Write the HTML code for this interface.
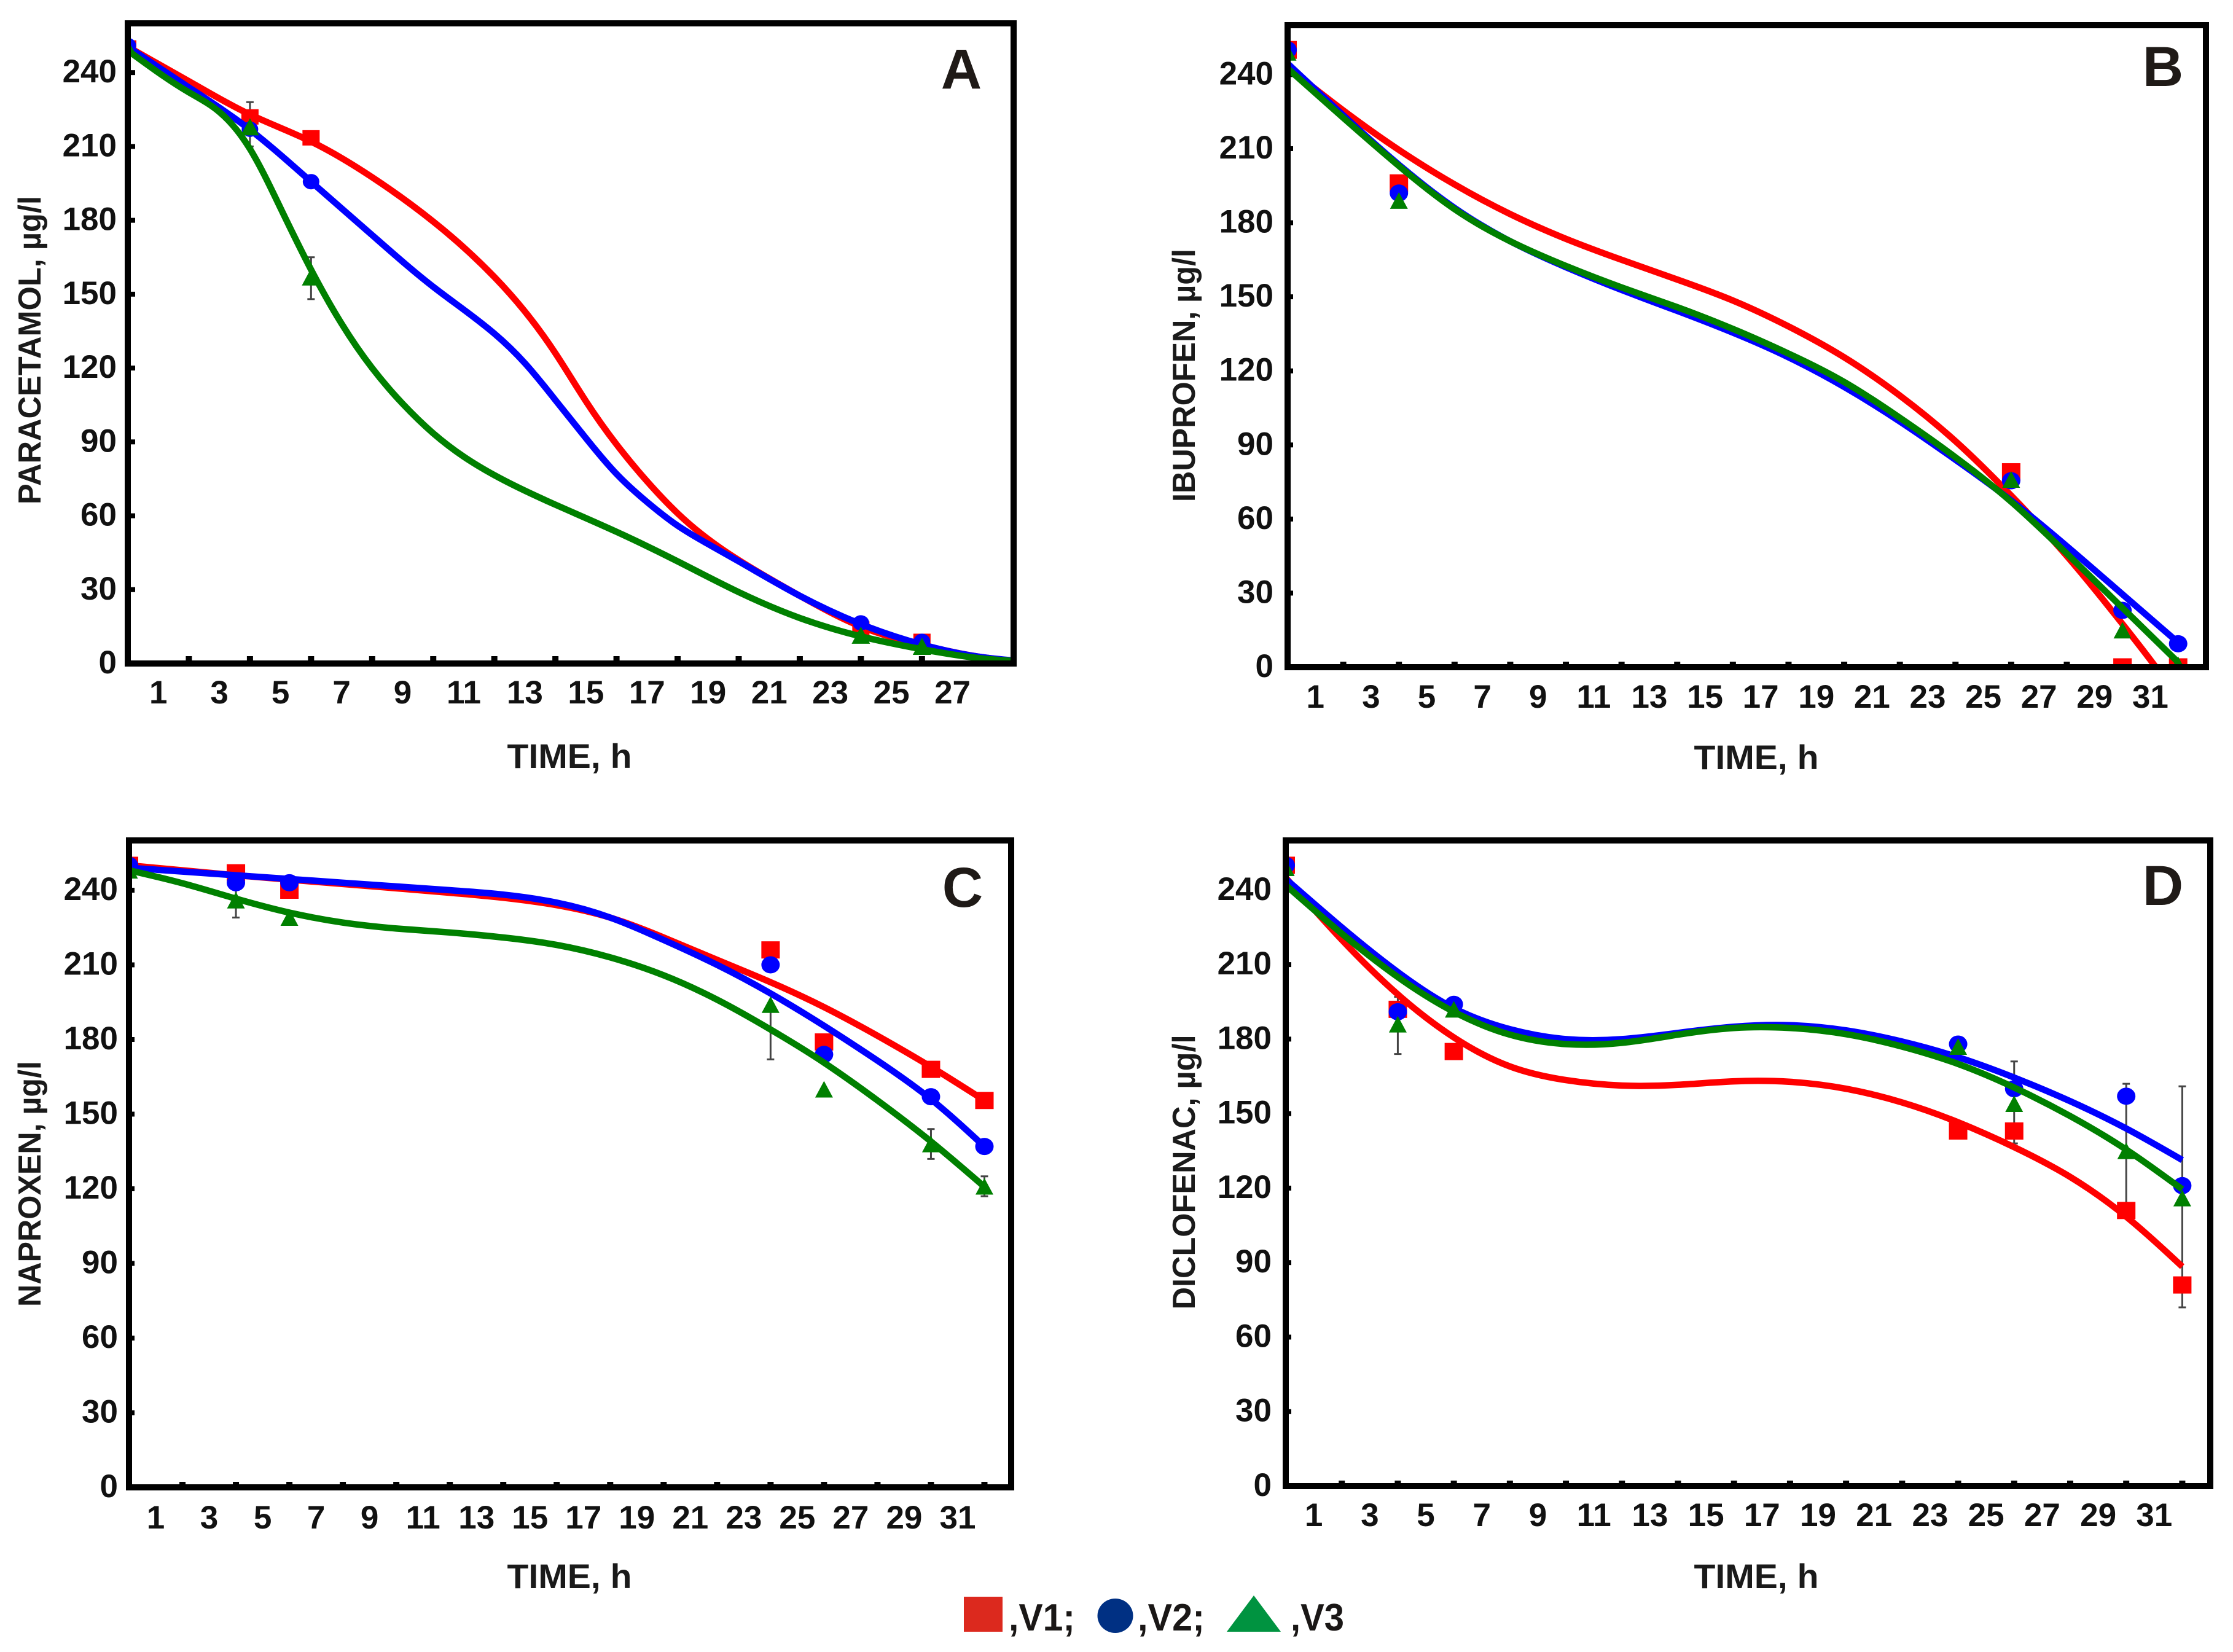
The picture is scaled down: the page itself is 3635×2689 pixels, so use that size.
<!DOCTYPE html>
<html lang="en">
<head>
<meta charset="utf-8">
<title>Pharmaceutical concentration over time, panels A to D</title>
<style>
html,body{margin:0;padding:0;background:#fff;}
svg{display:block;}
text{font-family:"Liberation Sans",Arial,sans-serif;font-weight:bold;fill:#111;}
.letter{fill:#1f1a17;font-size:92px;text-anchor:middle;}
.ytitle{font-size:52px;text-anchor:middle;fill:#1a1a1a;}
.xtitle{font-size:56px;text-anchor:middle;fill:#1a1a1a;}
.legend{font-size:62px;fill:#1a1716;}
</style>
</head>
<body>
<svg id="figure" xmlns="http://www.w3.org/2000/svg" width="3635" height="2689" viewBox="0 0 3635 2689">
  <rect x="0" y="0" width="3635" height="2689" fill="#ffffff"/>
  <defs>
    <clipPath id="clip-A"><rect x="208" y="38" width="1442" height="1042"/></clipPath>
    <clipPath id="clip-B"><rect x="2096" y="41" width="1495" height="1045"/></clipPath>
    <clipPath id="clip-C"><rect x="210" y="1368" width="1436" height="1053"/></clipPath>
    <clipPath id="clip-D"><rect x="2093" y="1368" width="1505" height="1051"/></clipPath>
  </defs>

  <g id="panel-A"></g>
  <rect x="208" y="38" width="1442" height="1042" fill="none" stroke="#000" stroke-width="10"/>
  <text class="letter" x="1565" y="144">A</text>
  <text class="ytitle" transform="translate(66,570) rotate(-90)" textLength="502" lengthAdjust="spacingAndGlyphs">PARACETAMOL, µg/l</text>
  <text class="xtitle" x="927" y="1250" textLength="203" lengthAdjust="spacingAndGlyphs">TIME, h</text>

  <g id="panel-B"></g>
  <rect x="2096" y="41" width="1495" height="1045" fill="none" stroke="#000" stroke-width="10"/>
  <text class="letter" x="3521" y="140">B</text>
  <text class="ytitle" transform="translate(1945,611) rotate(-90)" textLength="412" lengthAdjust="spacingAndGlyphs">IBUPROFEN, µg/l</text>
  <text class="xtitle" x="2859" y="1252" textLength="203" lengthAdjust="spacingAndGlyphs">TIME, h</text>

  <g id="panel-C"></g>
  <rect x="210" y="1368" width="1436" height="1053" fill="none" stroke="#000" stroke-width="10"/>
  <text class="letter" x="1567" y="1476">C</text>
  <text class="ytitle" transform="translate(66,1927) rotate(-90)" textLength="400" lengthAdjust="spacingAndGlyphs">NAPROXEN, µg/l</text>
  <text class="xtitle" x="927" y="2585" textLength="203" lengthAdjust="spacingAndGlyphs">TIME, h</text>

  <g id="panel-D"></g>
  <rect x="2093" y="1368" width="1505" height="1051" fill="none" stroke="#000" stroke-width="10"/>
  <text class="letter" x="3521" y="1473">D</text>
  <text class="ytitle" transform="translate(1945,1908) rotate(-90)" textLength="447" lengthAdjust="spacingAndGlyphs">DICLOFENAC, µg/l</text>
  <text class="xtitle" x="2859" y="2585" textLength="203" lengthAdjust="spacingAndGlyphs">TIME, h</text>

  <g>
    <rect x="1569" y="2599" width="63" height="57" fill="#dc291e"/>
    <text class="legend" x="1642" y="2654" textLength="108" lengthAdjust="spacingAndGlyphs">,V1;</text>
    <ellipse cx="1815.5" cy="2630" rx="29" ry="28" fill="#003083"/>
    <text class="legend" x="1852" y="2654" textLength="109" lengthAdjust="spacingAndGlyphs">,V2;</text>
    <polygon points="2041,2597 2085,2656 1997,2656" fill="#009340"/>
    <text class="legend" x="2101" y="2654" textLength="87" lengthAdjust="spacingAndGlyphs">,V3</text>
  </g>
</svg>

<script>
// ---------- shared tick labels ----------
const yTickValues = [0, 30, 60, 90, 120, 150, 180, 210, 240];
const xLabelsA = [1, 3, 5, 7, 9, 11, 13, 15, 17, 19, 21, 23, 25, 27];
const xLabelsOther = [1, 3, 5, 7, 9, 11, 13, 15, 17, 19, 21, 23, 25, 27, 29, 31];

// ---------- Panel A: paracetamol ----------
const curveHoursA = [0, 2, 4, 6, 8, 10, 12, 13, 14, 15, 16, 17, 18, 19, 20, 22, 24, 26, 28, 29];
const curveA_V1 = [250.5, 236.5, 223, 212, 197.5, 179.5, 157, 143, 126, 106.5, 89, 74, 61, 50.5, 42, 27.5, 15, 7.5, 2.5, 1];
const curveA_V2 = [250.5, 234, 216.8, 195.7, 174, 153, 134, 122, 107, 91.5, 77, 65.6, 56, 48.5, 41.5, 27.5, 16, 7.7, 2.5, 1.2];
const curveHoursA_V3 = [0, 2, 3, 4, 5, 6, 7, 8, 9, 10, 11, 12, 14, 16, 18, 20, 22, 24, 26, 28, 29];
const curveA_V3 = [249, 232, 224, 209, 185, 160, 138, 120, 105.5, 93.5, 84, 76.5, 64.5, 53.5, 41.5, 29, 18.5, 11, 5.8, 2, 1];
const sampleHoursA = [0, 4, 6, 24, 26];
const pointsA_V1 = [250, 222, 213.5, 14, 9];
const pointsA_V2 = [251, 217, 195.7, 16.5, 9];
const pointsA_V3 = [250, 218, 157, 11.5, 7];
const errHoursA = [4, 4, 6];
const errLowA = [216, 210, 148];
const errHighA = [228, 224, 165];

// ---------- Panel B: ibuprofen ----------
const curveHoursB_V1 = [0, 2, 4, 6, 8, 10, 12, 14, 16, 18, 20, 22, 24, 26, 28, 30, 31, 31.5];
const curveB_V1 = [243, 225.5, 209.5, 195.5, 183.5, 173.5, 165, 157, 148.5, 138, 125.5, 110, 91.5, 69.5, 45, 17.5, 3, -4.5];
const curveHoursB = [0, 2, 4, 6, 8, 10, 12, 14, 16, 18, 20, 22, 24, 26, 28, 30, 32];
const curveB_V2 = [244.5, 223.5, 203.5, 186, 172.5, 162, 152.8, 144.3, 135.5, 125.5, 113.5, 99.5, 84, 67.5, 49, 29.5, 10];
const curveB_V3 = [242.5, 222.5, 203, 185.5, 172.5, 162.5, 153.8, 145.8, 137, 127, 115.5, 101, 85, 67, 46, 24, 2];
const sampleHoursB = [0, 4, 26, 30, 32];
const pointsB_V1 = [250, 196, 79, 0, 0];
const pointsB_V2 = [250, 192, 75.5, 23, 9.5];
const pointsB_V3 = [249, 189, 76, 15, 1];
const errHoursB = [];
const errLowB = [];
const errHighB = [];

// ---------- Panel C: naproxen ----------
const curveHoursC = [0, 4, 8, 12, 16, 18, 20, 22, 24, 26, 28, 30, 32];
const curveC_V1 = [250, 246, 242.5, 239, 234, 229, 221, 212, 203, 193, 181.5, 169, 155.5];
const curveC_V2 = [249, 246, 243, 240, 235, 229, 220, 210, 198.5, 185.5, 171.5, 156, 137];
const curveHoursC_V3 = [0, 2, 4, 6, 8, 10, 12, 14, 16, 18, 20, 22, 24, 26, 28, 30, 32];
const curveC_V3 = [248, 242.8, 236.6, 231, 227, 224.6, 223, 221, 218, 213, 205.8, 196, 184, 170.7, 155.5, 139, 120.8];
const sampleHoursC = [0, 4, 6, 24, 26, 30, 32];
const pointsC_V1 = [250, 247, 240, 216, 179, 168, 155.5];
const pointsC_V2 = [250, 243, 243, 210, 174, 157, 137];
const pointsC_V3 = [248, 236, 229, 194, 160, 138, 121];
const errHoursC = [4, 24, 30, 32];
const errLowC = [229, 172, 132, 117];
const errHighC = [242, 194, 144, 125];

// ---------- Panel D: diclofenac ----------
const curveHoursD = [0, 2, 4, 6, 8, 10, 12, 14, 16, 18, 20, 22, 24, 26, 28, 30, 32];
const curveD_V1 = [245, 220, 198, 180.7, 169, 163.5, 161.3, 161.6, 163, 162.8, 160, 154.5, 146.5, 136.5, 124.5, 108.5, 88.4];
const curveD_V2 = [244.5, 225, 207, 192.5, 184, 180, 180, 182.5, 185, 185.6, 183.5, 179, 172.7, 164.5, 155, 144, 131.3];
const curveD_V3 = [242, 222.5, 205, 191, 181.8, 178, 178.5, 181.8, 184.5, 184.5, 182, 177, 170, 160.5, 149, 135.5, 119.5];
const sampleHoursD = [0, 4, 6, 24, 26, 30, 32];
const pointsD_V1 = [250, 192, 175, 143, 143, 111, 81];
const pointsD_V2 = [250, 191, 194, 178, 160, 157, 121];
const pointsD_V3 = [249, 186, 192, 177, 154, 135, 116];
const errHoursD = [4, 26, 30, 32];
const errLowD = [174, 138, 111, 72];
const errHighD = [197, 171, 162, 161];

// ---------- rendering ----------
const SVG_NS = 'http://www.w3.org/2000/svg';
const seriesColors = ['#ff0000', '#0000ff', '#008000'];
const seriesKeys = ['v1', 'v2', 'v3'];

function mk(parent, tag, attrs) {
  const el = document.createElementNS(SVG_NS, tag);
  for (const k in attrs) el.setAttribute(k, attrs[k]);
  parent.appendChild(el);
  return el;
}

// Natural cubic spline through the curve values, emitted as Bezier segments.
function splinePath(hours, values, xs, ys) {
  const px = hours.map(xs);
  const py = values.map(ys);
  const n = px.length;
  const a = new Array(n).fill(0), b = new Array(n).fill(1), c = new Array(n).fill(0), r = new Array(n).fill(0);
  for (let i = 1; i < n - 1; i++) {
    const h0 = px[i] - px[i - 1], h1 = px[i + 1] - px[i];
    a[i] = h0;
    b[i] = 2 * (h0 + h1);
    c[i] = h1;
    r[i] = 6 * ((py[i + 1] - py[i]) / h1 - (py[i] - py[i - 1]) / h0);
  }
  for (let i = 1; i < n; i++) {
    const w = a[i] / b[i - 1];
    b[i] -= w * c[i - 1];
    r[i] -= w * r[i - 1];
  }
  const k = new Array(n).fill(0);
  k[n - 1] = r[n - 1] / b[n - 1];
  for (let i = n - 2; i >= 0; i--) k[i] = (r[i] - c[i] * k[i + 1]) / b[i];

  let d = 'M' + px[0].toFixed(1) + ' ' + py[0].toFixed(1);
  for (let i = 0; i < n - 1; i++) {
    const h = px[i + 1] - px[i];
    const s = (py[i + 1] - py[i]) / h;
    const m0 = s - h * (2 * k[i] + k[i + 1]) / 6;
    const m1 = s + h * (k[i] + 2 * k[i + 1]) / 6;
    d += ' C' + (px[i] + h / 3).toFixed(1) + ' ' + (py[i] + m0 * h / 3).toFixed(1) +
         ' ' + (px[i + 1] - h / 3).toFixed(1) + ' ' + (py[i + 1] - m1 * h / 3).toFixed(1) +
         ' ' + px[i + 1].toFixed(1) + ' ' + py[i + 1].toFixed(1);
  }
  return d;
}

function drawPanel(cfg) {
  const root = document.getElementById('panel-' + cfg.id);
  const xs = function (t) { return cfg.l + (t / cfg.xMax) * (cfg.r - cfg.l); };
  const ys = function (v) { return cfg.b - (v / 260) * (cfg.b - cfg.t); };

  // axis ticks and labels
  for (let t = 2; t < cfg.xMax; t += 2) {
    const tick = mk(root, 'rect', { x: xs(t) - 5, y: cfg.b - 5 - cfg.tick, width: 10, height: cfg.tick + 2, fill: '#000' });
    
    
  }
  yTickValues.forEach(function (v) {
    if (v > 0) {
      const tick = mk(root, 'rect', { x: cfg.l + 3, y: ys(v) - 4, width: cfg.tick + 2, height: 8, fill: '#000' });
      
      
    }
    const label = mk(root, 'text', { x: cfg.yLabelX, y: ys(v) + 16, 'text-anchor': 'end', 'font-size': 53 });
    
    
    label.textContent = v;
  });
  cfg.xLabels.forEach(function (t) {
    const label = mk(root, 'text', { x: xs(t), y: cfg.xLabelY, 'text-anchor': 'middle', 'font-size': 53 });
    
    
    label.textContent = t;
  });

  const plot = mk(root, 'g', { 'clip-path': 'url(#clip-' + cfg.id + ')' });
  
  

  // error bars
  cfg.errHours.forEach(function (t, i) {
    const x = xs(t);
    const bar = mk(plot, 'path', {
      d: 'M' + x + ' ' + ys(cfg.errLow[i]) + ' V' + ys(cfg.errHigh[i]) +
         ' M' + (x - 6) + ' ' + ys(cfg.errLow[i]) + ' H' + (x + 6) +
         ' M' + (x - 6) + ' ' + ys(cfg.errHigh[i]) + ' H' + (x + 6),
      stroke: '#444', 'stroke-width': 3, fill: 'none'
    });
    
    
  });

  // series: markers then line, layered V1, V2, V3
  cfg.series.forEach(function (s, si) {
    const color = seriesColors[si];
    s.points.forEach(function (v, i) {
      const cx = xs(cfg.sampleHours[i]);
      const cy = ys(v);
      let mark;
      if (si === 0) {
        mark = mk(plot, 'rect', { x: cx - cfg.sq[0] / 2, y: cy - cfg.sq[1] / 2, width: cfg.sq[0], height: cfg.sq[1], fill: color });
      } else if (si === 1) {
        mark = mk(plot, 'ellipse', { cx: cx, cy: cy, rx: cfg.ci[0], ry: cfg.ci[1], fill: color });
      } else {
        mark = mk(plot, 'polygon', {
          points: cx + ',' + (cy - cfg.tr[1] / 2) + ' ' + (cx + cfg.tr[0] / 2) + ',' + (cy + cfg.tr[1] / 2) + ' ' + (cx - cfg.tr[0] / 2) + ',' + (cy + cfg.tr[1] / 2),
          fill: color
        });
      }
      
      
    });
    const line = mk(plot, 'path', {
      d: splinePath(s.hours, s.curve, xs, ys), fill: 'none', stroke: color,
      'stroke-width': 10.5, 'stroke-linejoin': 'round', 'stroke-linecap': 'butt'
    });
    
    
  });
}

drawPanel({
  id: 'A', l: 208, r: 1650, t: 38, b: 1080, xMax: 29, tick: 7, yLabelX: 190, xLabelY: 1145,
  xLabels: xLabelsA, sq: [28, 25], ci: [13.5, 12.5], tr: [30, 28],
  sampleHours: sampleHoursA, errHours: errHoursA, errLow: errLowA, errHigh: errHighA,
  series: [
    { hours: curveHoursA, curve: curveA_V1, points: pointsA_V1 },
    { hours: curveHoursA, curve: curveA_V2, points: pointsA_V2 },
    { hours: curveHoursA_V3, curve: curveA_V3, points: pointsA_V3 }
  ]
});
drawPanel({
  id: 'B', l: 2096, r: 3591, t: 41, b: 1086, xMax: 33, tick: 4, yLabelX: 2073, xLabelY: 1152,
  xLabels: xLabelsOther, sq: [30, 29], ci: [15, 14], tr: [29, 27],
  sampleHours: sampleHoursB, errHours: errHoursB, errLow: errLowB, errHigh: errHighB,
  series: [
    { hours: curveHoursB_V1, curve: curveB_V1, points: pointsB_V1 },
    { hours: curveHoursB, curve: curveB_V2, points: pointsB_V2 },
    { hours: curveHoursB, curve: curveB_V3, points: pointsB_V3 }
  ]
});
drawPanel({
  id: 'C', l: 210, r: 1646, t: 1368, b: 2421, xMax: 33, tick: 4, yLabelX: 192, xLabelY: 2488,
  xLabels: xLabelsOther, sq: [30, 28], ci: [15, 14], tr: [29, 27],
  sampleHours: sampleHoursC, errHours: errHoursC, errLow: errLowC, errHigh: errHighC,
  series: [
    { hours: curveHoursC, curve: curveC_V1, points: pointsC_V1 },
    { hours: curveHoursC, curve: curveC_V2, points: pointsC_V2 },
    { hours: curveHoursC_V3, curve: curveC_V3, points: pointsC_V3 }
  ]
});
drawPanel({
  id: 'D', l: 2093, r: 3598, t: 1368, b: 2419, xMax: 33, tick: 4, yLabelX: 2070, xLabelY: 2484,
  xLabels: xLabelsOther, sq: [30, 28], ci: [15, 14], tr: [29, 27],
  sampleHours: sampleHoursD, errHours: errHoursD, errLow: errLowD, errHigh: errHighD,
  series: [
    { hours: curveHoursD, curve: curveD_V1, points: pointsD_V1 },
    { hours: curveHoursD, curve: curveD_V2, points: pointsD_V2 },
    { hours: curveHoursD, curve: curveD_V3, points: pointsD_V3 }
  ]
});
</script>
</body>
</html>
